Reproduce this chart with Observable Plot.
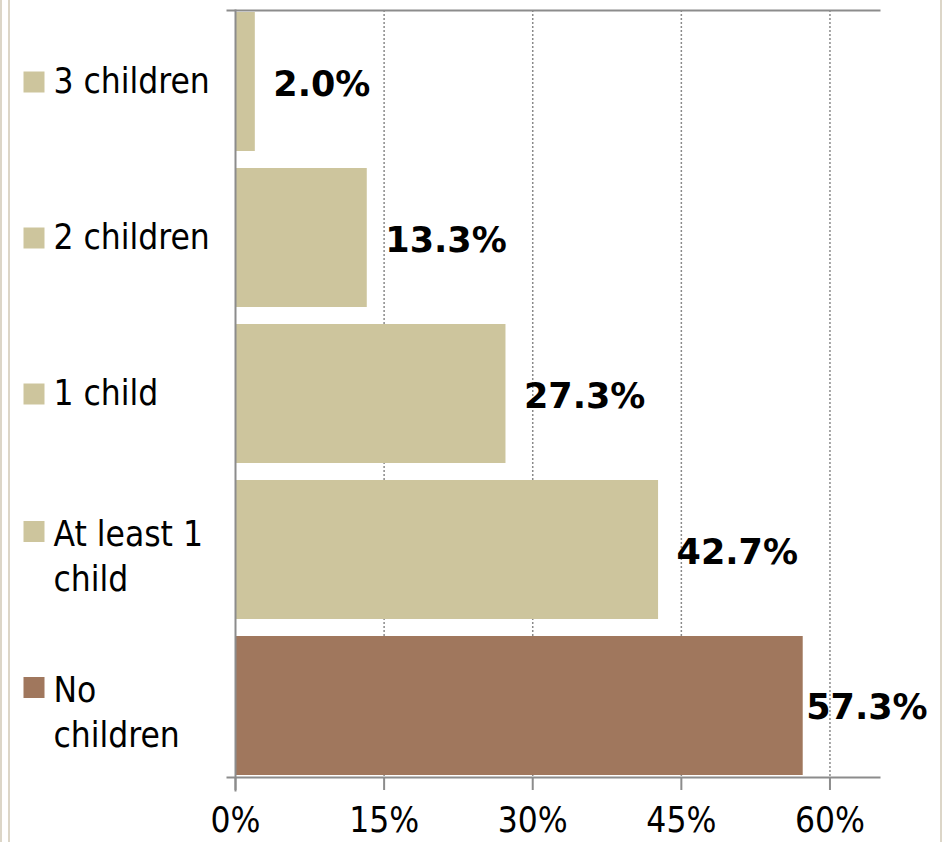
<!DOCTYPE html>
<html><head><meta charset="utf-8">
<script src="https://cdn.jsdelivr.net/npm/d3@7"></script>
<script src="https://cdn.jsdelivr.net/npm/@observablehq/plot@0.6"></script>
<style>
html,body{margin:0;padding:0;background:#fff;}
#wrap{position:relative;width:942px;height:842px;overflow:hidden;}
.edge{position:absolute;top:0;bottom:0;width:2px;background:#dcd6c8;}
</style></head><body>
<div id="wrap"><div class="edge" style="left:0"></div><div class="edge" style="left:8px"></div><div class="edge" style="left:940px"></div></div>
<script>
const categories = ["3 children", "2 children", "1 child", "At least 1 child", "No children"];
const labels = ["3 children", "2 children", "1 child", "At least 1\nchild", "No\nchildren"];
const values = [2.0, 13.3, 27.3, 42.7, 57.3];
const colors = ["#CDC59D", "#CDC59D", "#CDC59D", "#CDC59D", "#A0775D"];
const xTicks = [0, 15, 30, 45, 60];

const data = categories.map((c, i) => ({category: c, label: labels[i], value: values[i], color: colors[i]}));
const single = data.filter(d => !d.label.includes("\n"));
const multi = data.filter(d => d.label.includes("\n"));
const condensed = "'DejaVu Sans Condensed', 'DejaVu Sans', sans-serif";
const axisGray = "#8c8c8c";

const chart = Plot.plot({
  width: 942, height: 842,
  marginTop: 10, marginBottom: 65, marginLeft: 235, marginRight: 63,
  style: {fontFamily: condensed, fontSize: "35px", color: "#000", background: "transparent", overflow: "visible"},
  x: {domain: [0, 65], ticks: xTicks, tickFormat: d => d + "%"},
  y: {domain: categories, paddingInner: 0.107, paddingOuter: 0, axis: null},
  color: {type: "identity"},
  marks: [
    Plot.gridX(xTicks.filter(t => t > 0), {stroke: "#8a8a8a", strokeOpacity: 1, strokeWidth: 1.5, strokeDasharray: "2,2"}),
    Plot.barX(data, {y: "category", x: "value", fill: "color"}),
    Plot.frame({anchor: "top", stroke: axisGray, strokeWidth: 2, insetLeft: -8}),
    Plot.frame({anchor: "bottom", stroke: axisGray, strokeWidth: 2, insetLeft: -8}),
    Plot.frame({anchor: "left", stroke: axisGray, strokeWidth: 2, insetBottom: -13}),
    Plot.axisX({ticks: xTicks, tickFormat: d => d + "%", tickSize: 13, tickPadding: 17, stroke: axisGray, strokeWidth: 2, fill: "#000", fontSize: 35, fontFamily: condensed, label: null}),
    Plot.text(data.filter(d => d.value < 50), {y: "category", x: "value", text: d => d.value.toFixed(1) + "%", textAnchor: "start", dx: 18, dy: 3, fontWeight: "bold", fontSize: 35, fontFamily: "'DejaVu Sans', sans-serif", fill: "#000"}),
    Plot.text(data.filter(d => d.value >= 50), {y: "category", x: "value", text: d => d.value.toFixed(1) + "%", textAnchor: "start", dx: 3, dy: 2, fontWeight: "bold", fontSize: 35, fontFamily: "'DejaVu Sans', sans-serif", fill: "#000"}),
    Plot.text(single, {y: "category", text: "label", frameAnchor: "left", dx: -182, textAnchor: "start", fontSize: 35, fontFamily: condensed, fill: "#000"}),
    Plot.text(multi, {y: "category", text: "label", frameAnchor: "left", dx: -182, dy: 4, textAnchor: "start", lineHeight: 1.286, fontSize: 35, fontFamily: condensed, fill: "#000"}),
    Plot.dot(single, {y: "category", frameAnchor: "left", dx: -201.5, symbol: "square", r: 11.85, fill: "color", stroke: null}),
    Plot.dot(multi, {y: "category", frameAnchor: "left", dx: -201.5, dy: 4 - 22.5, symbol: "square", r: 11.85, fill: "color", stroke: null})
  ]
});
chart.style.position = "absolute";
chart.style.left = "0";
chart.style.top = "0";
document.getElementById("wrap").appendChild(chart);
</script>
</body></html>
